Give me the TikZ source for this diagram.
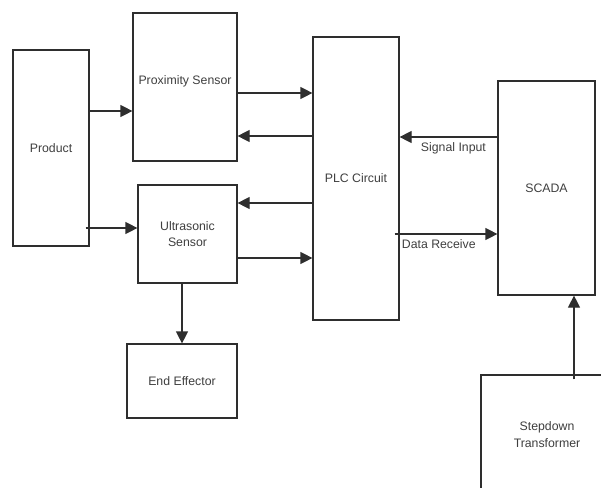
\documentclass[tikz,border=0pt]{standalone}
\usepackage{fontspec}
\setmainfont{Liberation Sans}
\usetikzlibrary{arrows.meta}
\definecolor{edge}{HTML}{2E2E2E}
\definecolor{ink}{HTML}{3F3F3F}
\tikzset{
  box/.style={draw=edge, line width=1.2pt, fill=white, inner sep=0pt,
    align=center, text=ink, font=\fontsize{12.3}{16}\selectfont},
  arr/.style={draw=edge, line width=1.2pt, -{Triangle[length=12pt,width=12pt]}},
  lbl/.style={text=ink, font=\fontsize{12.3}{15}\selectfont, inner sep=2pt}
}
\begin{document}
\begin{tikzpicture}[x=1pt, y=-1pt]
  \useasboundingbox (0,0) rectangle (601,487);
  \clip (0,0) rectangle (601,487);

  % blocks
  \node[box, minimum width=76pt, minimum height=196pt] (prod) at (51,148) {Product};
  \node[box, minimum width=104pt, minimum height=148pt, text height=9pt, text depth=15pt] (prox) at (185,87) {Proximity Sensor};
  \node[box, minimum width=99pt, minimum height=98pt] (ultra) at (187.5,234) {Ultrasonic\\Sensor};
  \node[box, minimum width=86pt, minimum height=283pt] (plc) at (356,178.5) {PLC Circuit};
  \node[box, minimum width=97pt, minimum height=214pt] (scada) at (546.5,188) {SCADA};
  \node[box, minimum width=110pt, minimum height=74pt] (eff) at (182,381) {End Effector};
  % runs past the right and bottom edges of the sheet
  \node[box, minimum width=132pt, minimum height=119pt, font=\fontsize{12.3}{17}\selectfont] (step) at (547,434.5) {Stepdown\\Transformer};

  % connectors
  \draw[arr] (prod.east |- 0,111) -- (prox.west |- 0,111);
  \draw[arr] ([xshift=-4pt]prod.east |- 0,228) -- (ultra.west |- 0,228);
  \draw[arr] (prox.east |- 0,93) -- (plc.west |- 0,93);
  \draw[arr] (plc.west |- 0,136) -- (prox.east |- 0,136);
  \draw[arr] (plc.west |- 0,203) -- (ultra.east |- 0,203);
  \draw[arr] (ultra.east |- 0,258) -- (plc.west |- 0,258);
  \draw[arr] (ultra.south -| 182,0) -- (eff.north -| 182,0);
  \draw[arr] (scada.west |- 0,137) -- node[lbl, below=3pt, pos=0.45] {Signal Input} (plc.east |- 0,137);
  \draw[arr] ([xshift=-5pt]plc.east |- 0,234) -- node[lbl, below=3pt, pos=0.43] {Data Receive} (scada.west |- 0,234);
  \draw[arr] ([yshift=-5pt]step.north -| 574,0) -- (scada.south -| 574,0);
\end{tikzpicture}
\end{document}
